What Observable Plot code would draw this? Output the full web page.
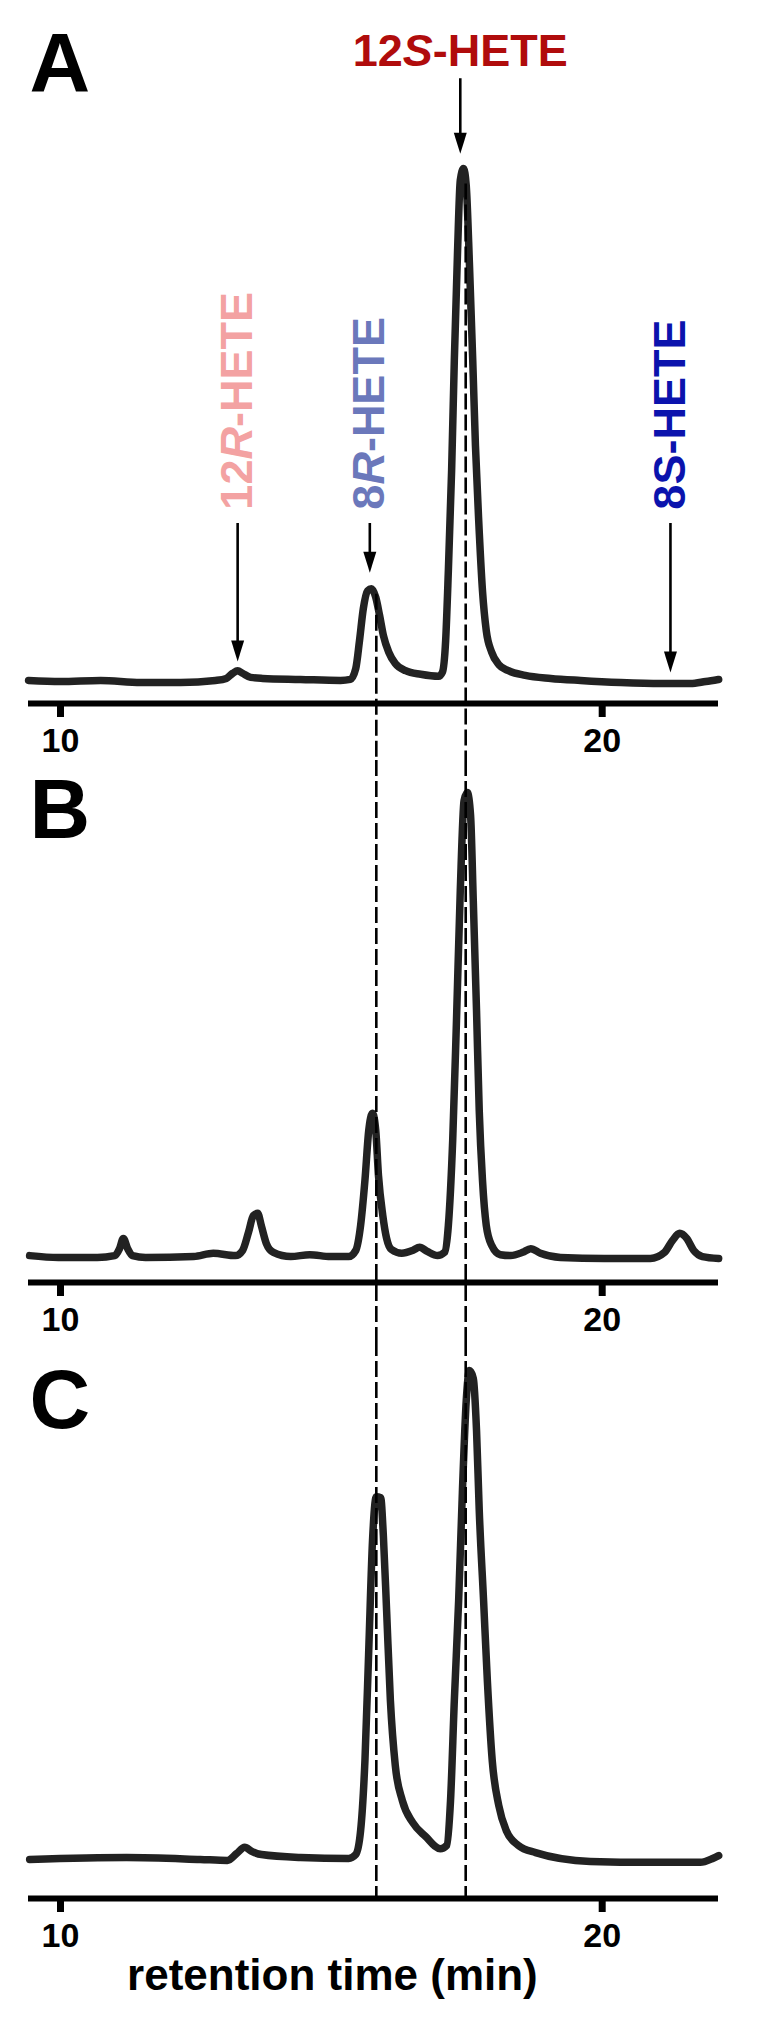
<!DOCTYPE html>
<html>
<head>
<meta charset="utf-8">
<script src="https://cdn.jsdelivr.net/npm/d3@7"></script>
<script src="https://cdn.jsdelivr.net/npm/@observablehq/plot@0.6"></script>
<style>
  html, body { margin: 0; padding: 0; background: #fff; }
  #chart { width: 757px; }
  #chart svg { display: block; }
</style>
</head>
<body>
<div id="chart"></div>
<script>
// ---------- DATA (retention time in min, relative signal; largest peak of each panel = 100) ----------
const traceA = [
  [9.41,0.2],[10.00,0],[10.74,0.2],[11.48,-0.2],[12.22,-0.2],[12.86,0.2],[13.06,0.6],[13.18,1.6],[13.27,2.1],
  [13.36,1.6],[13.51,0.8],[13.73,0.6],[14.43,0.4],[15.17,0.2],[15.35,0.4],[15.45,2.5],[15.52,8.0],[15.59,14.2],
  [15.67,17.7],[15.74,18.1],[15.82,16.4],[15.89,12.9],[15.96,9.0],[16.06,5.7],[16.18,3.5],[16.37,2.1],[16.65,1.4],
  [16.98,1.0],[17.05,1.8],[17.11,8.0],[17.16,21.6],[17.22,41.1],[17.27,62.6],[17.33,84.0],[17.38,97.7],[17.44,100],
  [17.49,96.7],[17.55,81.1],[17.61,62.6],[17.66,46.0],[17.72,31.4],[17.79,17.7],[17.86,9.9],[17.96,5.7],[18.09,3.3],
  [18.27,2.1],[18.58,1.2],[19.05,0.6],[19.60,0.2],[20.34,-0.2],[21.08,-0.4],[21.63,-0.4],[21.91,0],[22.15,0.4]
];
const traceB = [
  [9.43,0.4],[9.96,0],[10.68,0],[11.00,0.4],[11.09,1.9],[11.16,4.1],[11.24,1.9],[11.33,0.4],[11.57,0],[12.46,0.2],
  [12.82,0.9],[13.23,0.4],[13.36,1.5],[13.47,5.4],[13.56,9.0],[13.64,9.5],[13.71,6.7],[13.80,3.0],[13.93,1.1],
  [14.25,0.2],[14.60,0.6],[14.98,0.2],[15.32,0.2],[15.45,1.5],[15.54,6.9],[15.62,16.6],[15.69,27.3],[15.76,31.0],
  [15.82,27.3],[15.87,17.6],[15.95,9.0],[16.02,4.1],[16.11,1.7],[16.30,0.9],[16.50,1.5],[16.63,2.2],[16.77,1.3],
  [16.96,0.4],[17.09,1.1],[17.16,6.9],[17.24,25.2],[17.31,51.0],[17.38,78.9],[17.45,98.3],[17.51,100],[17.57,95.1],
  [17.62,76.8],[17.68,53.1],[17.73,31.6],[17.79,16.6],[17.86,6.9],[17.96,2.6],[18.12,0.6],[18.31,0.4],[18.53,1.1],
  [18.68,1.9],[18.86,0.9],[19.23,0],[20.04,-0.2],[20.89,-0.2],[21.15,1.1],[21.30,3.7],[21.43,5.2],[21.56,4.1],
  [21.69,1.5],[21.85,0.2],[22.15,-0.2]
];
const traceC = [
  [9.43,-0.4],[11.22,0],[12.58,-0.4],[13.08,-0.6],[13.25,0.8],[13.40,2.1],[13.54,1.2],[13.71,0.6],[14.43,0],
  [15.32,-0.2],[15.45,0.6],[15.54,5.5],[15.62,19.9],[15.69,42.5],[15.76,65.1],[15.83,74.1],[15.91,73.9],[15.96,66.1],
  [16.02,50.7],[16.09,32.2],[16.18,18.9],[16.31,11.7],[16.50,7.2],[16.74,4.3],[17.01,1.8],[17.13,2.5],[17.20,11.7],
  [17.27,32.2],[17.35,52.8],[17.42,75.4],[17.49,93.8],[17.55,100],[17.62,98.4],[17.68,87.7],[17.73,71.3],[17.81,52.8],
  [17.88,36.3],[17.97,19.9],[18.09,10.7],[18.23,5.5],[18.45,2.5],[18.77,1.0],[19.78,-0.8],[20.89,-1.0],[21.81,-1.0],
  [22.04,-0.2],[22.15,0.4]
];

// standards annotated in panel A
const standardNames = ["12R-HETE", "8R-HETE", "12S-HETE", "8S-HETE"];
const standardTimes = [13.27, 15.71, 17.38, 21.26];
const arrowFrom     = [30.8, 30.8, 117.5, 30.8];   // signal level where arrow starts (panel A units)
const arrowTo       = [3.9, 21.2, 102.9, 1.75];    // signal level of arrow tip
const labelLevel    = [33.5, 33.5, 119.9, 33.5];   // signal level of label anchor
const italicNames   = ["12R-HETE", "8R-HETE", "12S-HETE"];

// dashed reference lines (retention times of 8R- and 12S-HETE)
const refTimes = [15.83, 17.48];
const refStartA = [17, 97];

const panelLetters = ["A", "B", "C"];
const xTicks = [10, 20];
const xLabel = "retention time (min)";

// ---------- STYLE ----------
const FONT = '"Liberation Sans", Arial, Helvetica, sans-serif';
const labelColors = ["#f3a2a2", "#6b78bb", "#b00c0c", "#0b13ad"];
const traceColor = "#222222";
const xDomain = [9.409, 22.147];

const arrowHead = {
  draw(ctx) { ctx.moveTo(0, 0); ctx.lineTo(-6.5, -21); ctx.lineTo(6.5, -21); ctx.closePath(); }
};

function toRows(trace) { return trace.map(([t, v]) => ({t, v})); }

function basePlot({trace, letter, height, marginBottom, yDomain, letterDy, extra = [], xlab = false}) {
  const marks = [
    Plot.line(toRows(trace), {x: "t", y: "v", stroke: traceColor, strokeWidth: 7.5,
      curve: "monotone-x", strokeLinejoin: "round", strokeLinecap: "round"}),
    ...extra,
    Plot.ruleY([yDomain[0]], {stroke: "#000", strokeWidth: 6}),
    Plot.axisX({ticks: xTicks, tickSize: 14, tickPadding: 10, strokeWidth: 7, fontSize: 34,
      fontWeight: "bold", tickFormat: d => String(d), label: null, fill: "#000"}),
    Plot.text([letter], {text: d => d, frameAnchor: "top-left", dx: 1, dy: letterDy, fontSize: 84,
      fontWeight: "bold", textAnchor: "start", lineAnchor: "top", fill: "#000"})
  ];
  if (xlab) {
    marks.push(Plot.text([15.02], {x: d => d, text: () => xLabel, frameAnchor: "bottom", dy: 91,
      lineAnchor: "bottom", fontSize: 44, fontWeight: "bold", fill: "#000"}));
  }
  return Plot.plot({
    width: 757, height, marginLeft: 28, marginRight: 39, marginTop: 0, marginBottom,
    x: {domain: xDomain, axis: null},
    y: {domain: yDomain, axis: null},
    style: {fontFamily: FONT, background: "#fff", overflow: "visible"},
    marks
  });
}

const dash = {stroke: "#000", strokeWidth: 2.6, strokeDasharray: "16,5"};

// ----- Panel A annotations -----
const ann = standardNames.map((name, i) => ({name, t: standardTimes[i], from: arrowFrom[i], to: arrowTo[i], lab: labelLevel[i], i}));
const annMarks = [
  Plot.ruleX(refTimes.map((t, i) => ({t, y1: refStartA[i]})),
    {x: "t", y1: "y1", y2: () => -4.29, insetBottom: -57, ...dash}),
  Plot.ruleX(ann, {x: "t", y1: "from", y2: "to", insetBottom: 10, stroke: "#000", strokeWidth: 2.6}),
  Plot.dot(ann, {x: "t", y: "to", symbol: arrowHead, r: 5, fill: "#000", stroke: "none"}),
  ...ann.map(d => d.name === "12S-HETE"
    ? Plot.text([d], {x: "t", y: "lab", text: "name", textAnchor: "middle", lineAnchor: "bottom",
        fontSize: 45, fontWeight: "bold", fill: labelColors[d.i]})
    : Plot.text([d], {x: "t", y: "lab", text: "name", rotate: -90, textAnchor: "start", lineAnchor: "middle",
        fontSize: 45, fontWeight: "bold", fill: labelColors[d.i]}))
];

const svgA = basePlot({trace: traceA, letter: panelLetters[0], height: 760, marginBottom: 57,
  yDomain: [-4.29, 132.75], letterDy: 32, extra: annMarks});
const svgB = basePlot({trace: traceB, letter: panelLetters[1], height: 580, marginBottom: 58,
  yDomain: [-5.38, 106.88], letterDy: 18,
  extra: [Plot.ruleX(refTimes, {x: d => d, insetBottom: -58, ...dash})]});
const svgC = basePlot({trace: traceC, letter: panelLetters[2], height: 686, marginBottom: 128,
  yDomain: [-8.42, 106.16], letterDy: 28, xlab: true,
  extra: [Plot.ruleX(refTimes, {x: d => d, ...dash})]});

function italicize(svg) {
  const ns = "http://www.w3.org/2000/svg";
  svg.querySelectorAll("text").forEach(el => {
    const s = el.textContent;
    if (!italicNames.includes(s)) return;
    const m = /^(\d+)([RS])(-HETE)$/.exec(s);
    if (!m) return;
    el.textContent = "";
    const ts = document.createElementNS(ns, "tspan");
    ts.setAttribute("font-style", "italic");
    ts.textContent = m[2];
    el.append(m[1], ts, m[3]);
  });
}
italicize(svgA);

const chart = document.getElementById("chart");
chart.append(svgA, svgB, svgC);
</script>
</body>
</html>
